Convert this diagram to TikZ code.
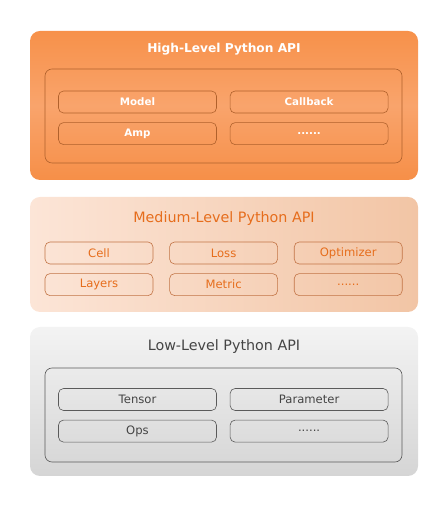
\documentclass[tikz,border=0pt]{standalone}
\usepackage{fontspec}
\setmainfont{DejaVu Sans}
\usetikzlibrary{positioning}

\definecolor{hiTop}{HTML}{F7914A}
\definecolor{hiMid}{HTML}{F9A46C}
\definecolor{hiBot}{HTML}{F68F48}
\definecolor{hiLine}{HTML}{B0612C}
\definecolor{midLeft}{HTML}{FCE5D7}
\definecolor{midRight}{HTML}{F2C5A5}
\definecolor{midLine}{HTML}{C27446}
\definecolor{midText}{HTML}{E66D1C}
\definecolor{loTop}{HTML}{F3F3F3}
\definecolor{loBot}{HTML}{D5D5D5}
\definecolor{loLine}{HTML}{5A5A5A}
\definecolor{loText}{HTML}{444444}

\begin{document}
\begin{tikzpicture}[
        x=1pt, y=1pt,
        node distance=9pt and 13pt,
        layer/.style={rectangle, rounded corners=10pt, minimum width=388pt, inner sep=0pt},
        holder/.style={rectangle, rounded corners=7pt, minimum width=357pt, minimum height=94pt, inner sep=0pt},
        title/.style={font=\fontsize{14.3}{16}\selectfont},
        block/.style={rectangle, rounded corners=5pt, minimum height=22pt, inner sep=0pt, line width=0.6pt, font=\fontsize{11.6}{13}\selectfont},
        wideblock/.style={block, minimum width=158pt},
        highblock/.style={wideblock, draw=hiLine, text=white, font=\fontsize{10.3}{12}\selectfont\bfseries},
        lowblock/.style={wideblock, draw=loLine, text=loText},
        midblock/.style={block, minimum width=108pt, draw=midLine, text=midText}
    ]
    \useasboundingbox (0,0) rectangle (446,505);

    % High-level layer
    \node (high) [layer, minimum height=149pt, top color=hiTop, bottom color=hiBot, middle color=hiMid] at (224,399.5) {};
    \node (hightitle) [title, text=white, font=\fontsize{12.2}{14}\selectfont\bfseries] at (224,456) {High-Level Python API};
    \node (highbox) [holder, draw=hiLine, line width=0.6pt] at (223.5,389) {};
    \node (model) [highblock] at (137.5,403) {Model};
    \node (callback) [highblock, right=of model] {Callback};
    \node (amp) [highblock, below=of model] {Amp};
    \node (highmore) [highblock, below=of callback] {......};

    % Medium-level layer
    \node (mid) [layer, minimum height=115pt, left color=midLeft, right color=midRight] at (224,250.5) {};
    \node (midtitle) [title, text=midText] at (224,286) {Medium-Level Python API};
    \node (cell) [midblock] at (99,252) {Cell};
    \node (loss) [midblock, right=16pt of cell] {Loss};
    \node (optimizer) [midblock, right=16pt of loss] {Optimizer};
    \node (layers) [midblock, below=of cell] {Layers};
    \node (metric) [midblock, below=of loss] {Metric};
    \node (midmore) [midblock, below=of optimizer] {......};

    % Low-level layer
    \node (low) [layer, minimum height=149pt, top color=loTop, bottom color=loBot] at (224,103.5) {};
    \node (lowtitle) [title, text=loText] at (224,158) {Low-Level Python API};
    \node (lowbox) [holder, draw=loLine, line width=0.6pt] at (223.5,90) {};
    \node (tensor) [lowblock] at (137.5,105.5) {Tensor};
    \node (parameter) [lowblock, right=of tensor] {Parameter};
    \node (ops) [lowblock, below=of tensor] {Ops};
    \node (lowmore) [lowblock, below=of parameter] {......};
\end{tikzpicture}
\end{document}
